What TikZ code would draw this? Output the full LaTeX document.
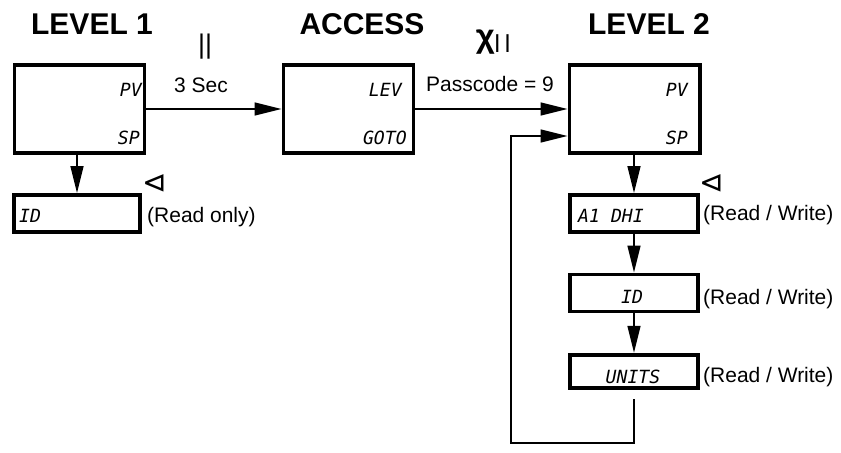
\documentclass[tikz,border=0pt]{standalone}
\usepackage{fontspec}
\usepackage{amssymb}
\setmainfont{Liberation Sans}
\setsansfont{Liberation Sans}
\newfontfamily\segfont{DejaVu Sans Mono}
\newfontfamily\symfont{DejaVu Sans}
\usetikzlibrary{arrows.meta,positioning,calc}
\tikzset{
  panel/.style={rectangle, draw=black, line width=3.4pt, inner sep=0pt,
                minimum width=3.9cm, minimum height=#1},
  title/.style={font=\fontsize{25.6pt}{28pt}\selectfont\bfseries, inner sep=0pt, anchor=base},
  note/.style={font=\fontsize{17.9pt}{20pt}\selectfont, inner sep=0pt, anchor=base west},
  seg/.style={font=\fontsize{15.5pt}{18pt}\selectfont\segfont\itshape, inner sep=0pt},
  keysym/.style={font=\fontsize{#1}{#1}\selectfont, inner sep=0pt},
  arr/.style={-{Triangle[length=23pt, width=11pt]}, line width=1.5pt},
}

\begin{document}
\begin{tikzpicture}[x=0.03cm, y=-0.03cm]
\useasboundingbox (0,0) rectangle (841,453);
% titles
\node[title] (t1) at (92,35) {LEVEL 1};
\node[title] (t2) at (362,35) {ACCESS};
\node[title] (t3) at (649,35) {LEVEL 2};
% main displays
\node[panel=2.64cm] (lv1) at (79.5,109) {};
\node[panel=2.64cm] (acc) at (348.5,109) {};
\node[panel=2.64cm] (lv2) at (634.5,109) {};
\node[seg, anchor=base east] (lv1pv) at (142,97) {PV};
\node[seg, anchor=base east] (lv1sp) at (140,145) {SP};
\node[seg, anchor=base east] (acclev) at (402,97) {LEV};
\node[seg, anchor=base east] (accgo) at (407,145) {GOTO};
\node[seg, anchor=base east] (lv2pv) at (688,97) {PV};
\node[seg, anchor=base east] (lv2sp) at (688,145) {SP};
% parameter displays
\node[panel=1.11cm, minimum width=3.78cm] (id1) at (77,213.5) {};
\node[panel=1.11cm, minimum width=3.84cm] (alm) at (634,213.5) {};
\node[panel=1.11cm, minimum width=3.84cm] (id2) at (634,293) {};
\node[panel=1.0cm, minimum width=3.84cm] (unt) at (634,371.5) {};
\node[seg, anchor=base west] (id1t) at (19,222) {ID};
\node[seg, anchor=base west] (almt) at (578,222) {A1 DHI};
\node[seg, anchor=base] (id2t) at (632,303) {ID};
\node[seg, anchor=base] (untt) at (633,383) {UNITS};
% key symbols
\node[keysym=23pt] (k1) at (205,47) {||};
\node[keysym=21pt, anchor=base] (k2) at (493,53) {{\fontsize{28pt}{28pt}\selectfont\raisebox{5pt}{\textbf{χ}}}l\hspace{4pt}l};
\node[keysym=25pt] (m1) at (155,184) {\symfont ⊲};
\node[keysym=25pt] (m2) at (712,184) {\symfont ⊲};
% labels
\node[note, anchor=base] (s1) at (201,93) {3 Sec};
\node[note, anchor=base] (s2) at (490,92) {Passcode = 9};
\node[note] (r0) at (147,222) {(Read only)};
\node[note] (r1) at (703,220) {(Read / Write)};
\node[note] (r2) at (703,304) {(Read / Write)};
\node[note] (r3) at (703,382) {(Read / Write)};
% connectors
\coordinate (lp) at (511,443);
\draw[arr] (lv1) -- (acc);
\draw[arr] (acc) -- (lv2);
\draw[arr] (id1.north |- lv1.south) -- (id1.north);
\draw[arr] (alm.north |- lv2.south) -- (alm.north);
\draw[arr] (alm) -- (id2);
\draw[arr] (id2) -- (unt);
\draw[arr] ([yshift=-0.27cm]unt.south) |- (lp) |- ([yshift=-0.81cm]lv2.west);
\end{tikzpicture}
\end{document}
